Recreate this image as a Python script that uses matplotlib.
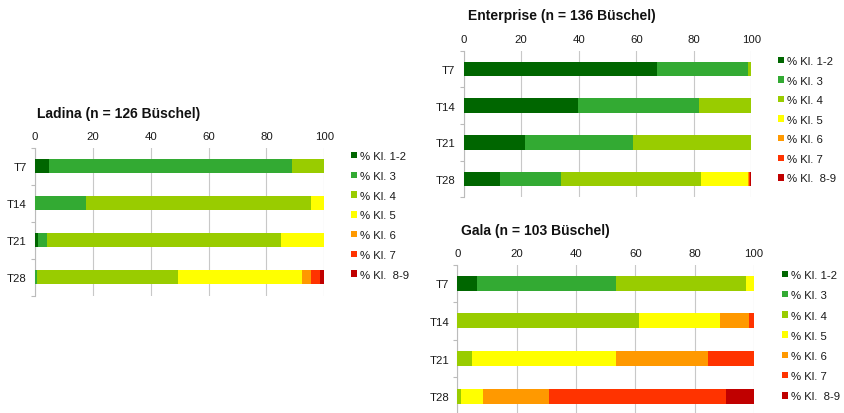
import numpy as np
import matplotlib.pyplot as plt
from matplotlib.patches import Patch

plt.rcParams["font.family"] = ["Liberation Sans", "DejaVu Sans"]

W, H = 844, 414

categories = ["T7", "T14", "T21", "T28"]
classes = ["% Kl. 1-2", "% Kl. 3", "% Kl. 4", "% Kl. 5", "% Kl. 6", "% Kl. 7", "% Kl.  8-9"]
class_colors = ["#006600", "#33aa33", "#99cc00", "#ffff00", "#ff9900", "#ff3300", "#c00000"]
x_ticks = [0, 20, 40, 60, 80, 100]

# rows = classes, columns = T7, T14, T21, T28 (percent of bunches)
ladina = [
    [5.0, 0.0, 0.9, 0.0],
    [83.8, 17.6, 3.1, 0.8],
    [11.2, 77.8, 81.0, 48.5],
    [0.0, 4.6, 15.0, 42.9],
    [0.0, 0.0, 0.0, 3.2],
    [0.0, 0.0, 0.0, 3.1],
    [0.0, 0.0, 0.0, 1.5],
]
enterprise = [
    [67.1, 39.7, 21.4, 12.6],
    [31.6, 42.0, 37.6, 21.4],
    [1.3, 18.3, 41.0, 48.5],
    [0.0, 0.0, 0.0, 16.2],
    [0.0, 0.0, 0.0, 0.4],
    [0.0, 0.0, 0.0, 0.6],
    [0.0, 0.0, 0.0, 0.3],
]
gala = [
    [6.7, 0.0, 0.0, 0.0],
    [46.7, 0.0, 0.0, 0.0],
    [43.8, 61.3, 4.8, 1.1],
    [2.8, 27.2, 48.6, 7.7],
    [0.0, 9.8, 31.2, 22.2],
    [0.0, 1.7, 15.4, 59.6],
    [0.0, 0.0, 0.0, 9.4],
]

fig = plt.figure(figsize=(W / 100, H / 100), dpi=100)


def px_axes(left, right, top, bottom):
    return fig.add_axes([left / W, 1 - bottom / H, (right - left) / W, (bottom - top) / H])


def draw_panel(ax, data, title, title_xy, legend_xy, spacing):
    y = np.arange(len(categories))
    left = np.zeros(len(categories))
    for vals, color in zip(data, class_colors):
        vals = np.array(vals)
        ax.barh(y, vals, left=left, height=0.4, color=color, zorder=3)
        left += vals
    ax.set_xlim(0, 100)
    ax.set_ylim(len(categories) - 0.5, -0.5)
    ax.set_yticks(y)
    ax.set_yticklabels(categories, fontsize=8.2, color="#1a1a1a")
    ax.set_yticks(np.arange(len(categories) + 1) - 0.5, minor=True)
    ax.tick_params(axis="y", which="major", length=0, pad=6)
    ax.tick_params(axis="y", which="minor", length=3, color="#bbbbbb", width=0.8)
    ax.xaxis.tick_top()
    ax.set_xticks(x_ticks)
    ax.tick_params(axis="x", length=0, pad=4.5, labelsize=8.2, labelcolor="#1a1a1a")
    ax.grid(axis="x", color="#c8c8c8", linewidth=0.8, zorder=0)
    for s in ["top", "right", "bottom"]:
        ax.spines[s].set_visible(False)
    ax.spines["left"].set_color("#bbbbbb")
    ax.spines["left"].set_linewidth(0.8)

    fig.text(title_xy[0] / W, 1 - title_xy[1] / H, title, fontsize=10, fontweight="bold",
             ha="left", va="center", color="#111111")

    handles = [Patch(facecolor=c, edgecolor="none") for c in class_colors]
    fig.legend(handles, classes, loc="upper left",
               bbox_to_anchor=(legend_xy[0] / W, 1 - legend_xy[1] / H),
               frameon=False, borderpad=0, borderaxespad=0, fontsize=8.2,
               handlelength=0.5, handleheight=0.5, handletextpad=0.3,
               labelspacing=spacing, labelcolor="#1a1a1a")


ax1 = px_axes(35, 324.3, 148.5, 296.5)
draw_panel(ax1, ladina, "Ladina (n = 126 Büschel)", (37, 114), (351, 152), 0.86)

ax2 = px_axes(463.7, 751.3, 51.7, 198.3)
draw_panel(ax2, enterprise, "Enterprise (n = 136 Büschel)", (468, 16), (778, 57), 0.84)

ax3 = px_axes(457.3, 754, 265.5, 416)
draw_panel(ax3, gala, "Gala (n = 103 Büschel)", (461, 231), (782, 271), 0.9)

fig.savefig("out.png", dpi=100)
